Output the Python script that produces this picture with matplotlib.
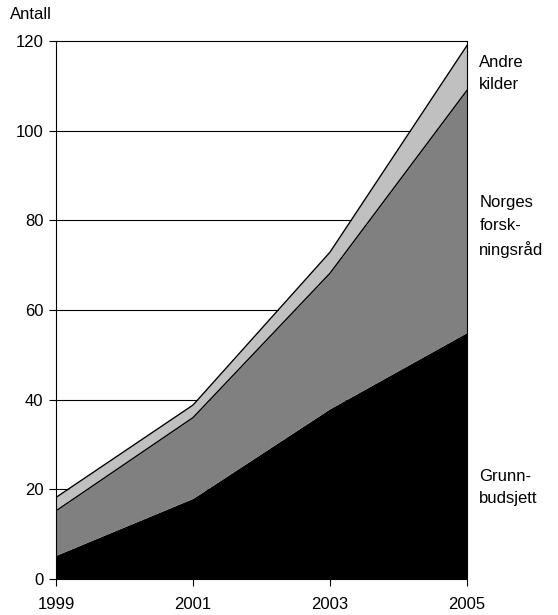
import matplotlib.pyplot as plt
import numpy as np

plt.rcParams['font.family'] = ['Liberation Sans', 'DejaVu Sans']

years = [1999, 2001, 2003, 2005]
grunnbudsjett = [5.3, 18, 38, 55]
forskningsraad = [9.9, 18, 30.2, 54]
andre_kilder = [3, 2.8, 4.7, 10]
yticks = [0, 20, 40, 60, 80, 100, 120]

fig = plt.figure(figsize=(5.58, 6.15), dpi=100)
ax = fig.add_axes([0.1004, 0.0585, 0.7365, 0.8748])

g = np.array(grunnbudsjett)
f = g + np.array(forskningsraad)
a = f + np.array(andre_kilder)

for yv in yticks[1:-1]:
    ax.axhline(yv, color='black', lw=0.8, zorder=0)

ax.fill_between(years, 0, g, color='black', lw=0, zorder=1)
ax.fill_between(years, g, f, color='#808080', lw=0, zorder=1)
ax.fill_between(years, f, a, color='#c0c0c0', lw=0, zorder=1)
ax.plot(years, f, color='black', lw=1, zorder=2)
ax.plot(years, a, color='black', lw=1, zorder=2)

ax.set_xlim(1999, 2005)
ax.set_ylim(0, 120)
ax.set_xticks(years)
ax.set_yticks(yticks)
ax.tick_params(labelsize=12, length=5, width=0.8, direction='out')
ax.tick_params(axis='x', pad=8)
ax.tick_params(axis='y', pad=4)
for s in ax.spines.values():
    s.set_linewidth(0.8)
    s.set_zorder(3)

ax.text(-0.01, 1.035, 'Antall', transform=ax.transAxes, fontsize=12,
        ha='right', va='bottom')

lab = dict(transform=ax.transAxes, fontsize=12, ha='left', va='center',
           linespacing=1.6)
ax.text(1.03, 0.94, 'Andre\nkilder', **lab)
ax.text(1.03, 0.655, 'Norges\nforsk-\nningsråd', **lab)
ax.text(1.03, 0.17, 'Grunn-\nbudsjett', **lab)

fig.savefig('out.png', dpi=100)
